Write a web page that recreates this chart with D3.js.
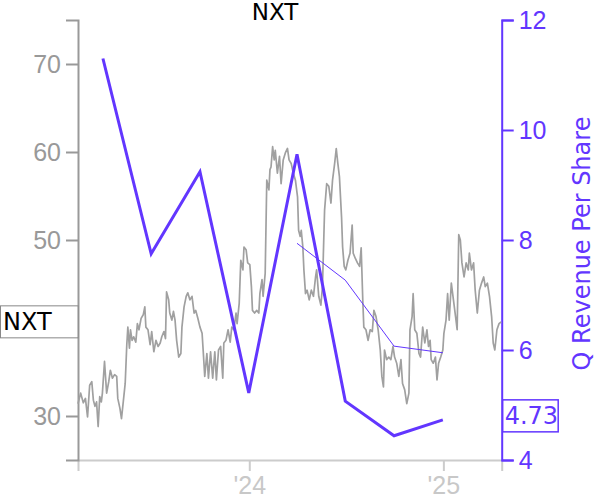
<!DOCTYPE html>
<html>
<head>
<meta charset="utf-8">
<script src="https://cdn.jsdelivr.net/npm/d3@7"></script>
<style>
	body { margin: 0; background: #fff; }
	svg { font-family: "DejaVu Sans", sans-serif; }
</style>
</head>
<body>
<div id="chart"></div>
<script>
// ---- data ----
const ticker = "NXT";
const rightLabel = "Q Revenue Per Share";

// daily-ish close prices, left axis
const priceDates = [
	"2023-02-12","2023-02-17","2023-02-22","2023-02-26","2023-03-02","2023-03-06","2023-03-10","2023-03-13","2023-03-16","2023-03-19",
	"2023-03-22","2023-03-25","2023-03-28","2023-03-30","2023-04-03","2023-04-07","2023-04-11","2023-04-14","2023-04-18","2023-04-22",
	"2023-04-26","2023-04-28","2023-05-02","2023-05-05","2023-05-08","2023-05-12","2023-05-15","2023-05-17","2023-05-20","2023-05-22",
	"2023-05-25","2023-05-28","2023-06-01","2023-06-04","2023-06-07","2023-06-11","2023-06-15","2023-06-18","2023-06-20","2023-06-24",
	"2023-06-28","2023-07-01","2023-07-05","2023-07-09","2023-07-13","2023-07-17","2023-07-20","2023-07-24","2023-07-27","2023-07-29",
	"2023-08-02","2023-08-04","2023-08-08","2023-08-11","2023-08-14","2023-08-17","2023-08-21","2023-08-25","2023-08-27","2023-08-31",
	"2023-09-04","2023-09-07","2023-09-11","2023-09-15","2023-09-19","2023-09-22","2023-09-26","2023-09-30","2023-10-04","2023-10-06",
	"2023-10-09","2023-10-13","2023-10-16","2023-10-20","2023-10-24","2023-10-28","2023-10-31","2023-11-04","2023-11-08","2023-11-12",
	"2023-11-14","2023-11-18","2023-11-22","2023-11-26","2023-11-29","2023-12-03","2023-12-07","2023-12-09","2023-12-13","2023-12-16",
	"2023-12-20","2023-12-22","2023-12-26","2023-12-29","2024-01-02","2024-01-05","2024-01-07","2024-01-11","2024-01-15","2024-01-19",
	"2024-01-21","2024-01-25","2024-01-27","2024-01-31","2024-02-03","2024-02-07","2024-02-09","2024-02-11","2024-02-14","2024-02-17",
	"2024-02-19","2024-02-23","2024-02-27","2024-03-01","2024-03-05","2024-03-09","2024-03-13","2024-03-16","2024-03-20","2024-03-24",
	"2024-03-28","2024-04-01","2024-04-03","2024-04-06","2024-04-08","2024-04-11","2024-04-13","2024-04-16","2024-04-19","2024-04-23",
	"2024-04-27","2024-05-01","2024-05-05","2024-05-07","2024-05-11","2024-05-15","2024-05-18","2024-05-22","2024-05-26","2024-05-30",
	"2024-06-03","2024-06-06","2024-06-10","2024-06-13","2024-06-16","2024-06-19","2024-06-23","2024-06-25","2024-06-28","2024-07-01",
	"2024-07-05","2024-07-09","2024-07-13","2024-07-15","2024-07-19","2024-07-23","2024-07-27","2024-07-30","2024-08-02","2024-08-04",
	"2024-08-08","2024-08-12","2024-08-16","2024-08-20","2024-08-23","2024-08-27","2024-08-31","2024-09-04","2024-09-07","2024-09-10",
	"2024-09-12","2024-09-16","2024-09-20","2024-09-24","2024-09-28","2024-10-01","2024-10-05","2024-10-09","2024-10-13","2024-10-16",
	"2024-10-20","2024-10-24","2024-10-28","2024-10-30","2024-11-03","2024-11-05","2024-11-08","2024-11-12","2024-11-16","2024-11-19",
	"2024-11-23","2024-11-27","2024-12-01","2024-12-04","2024-12-07","2024-12-09","2024-12-13","2024-12-17","2024-12-20","2024-12-23",
	"2024-12-27","2024-12-31","2025-01-02","2025-01-06","2025-01-09","2025-01-12","2025-01-16","2025-01-20","2025-01-24","2025-01-27",
	"2025-01-30","2025-02-02","2025-02-05","2025-02-09","2025-02-13","2025-02-17","2025-02-19","2025-02-23","2025-02-27","2025-03-02",
	"2025-03-06","2025-03-10","2025-03-14","2025-03-18","2025-03-21","2025-03-25","2025-03-29","2025-04-02","2025-04-05","2025-04-08",
	"2025-04-12","2025-04-16","2025-04-20"
];
const priceValues = [
	31.4,32.6,31.5,32.0,29.9,33.5,33.9,31.8,31.1,31.6,
	28.8,32.2,31.6,32.6,36.2,32.6,33.9,35.2,34.3,34.7,
	34.5,32.0,30.9,29.7,31.4,33.7,38.1,40.1,37.7,39.8,
	38.6,39.0,38.4,40.5,39.8,41.1,41.5,42.4,40.1,39.8,
	38.1,39.6,37.3,38.6,37.9,38.3,39.0,39.6,38.8,44.1,
	43.2,41.7,40.9,41.9,40.9,38.6,36.7,37.1,40.1,42.4,
	43.6,44.0,43.2,43.6,41.7,42.0,41.1,40.1,39.4,37.5,
	34.5,37.1,34.3,37.3,34.3,37.3,34.1,37.5,37.9,34.3,
	38.3,38.6,39.8,38.4,40.1,39.8,41.7,40.5,42.8,47.7,
	46.6,49.2,48.9,47.4,47.2,44.7,42.0,41.7,42.0,41.7,
	43.9,45.5,43.6,46.2,56.8,55.7,58.0,58.3,60.6,59.1,
	60.2,57.6,59.5,56.4,59.1,59.9,60.4,59.1,58.7,57.6,
	56.8,54.9,51.1,50.4,51.1,49.2,46.6,43.9,44.3,43.2,
	44.3,43.6,45.8,46.6,43.6,42.6,44.7,53.4,56.4,56.1,
	54.2,56.8,58.7,60.4,58.7,57.2,52.6,49.2,47.0,46.6,
	47.7,48.5,51.7,48.5,47.9,47.4,47.0,49.1,43.2,40.1,
	39.8,38.6,39.8,39.6,42.0,41.3,39.8,37.5,34.5,33.3,
	37.5,36.4,36.7,36.4,37.9,36.7,36.0,34.5,36.4,33.7,
	33.0,31.4,32.6,39.8,41.3,43.9,39.8,39.4,37.1,36.7,
	40.1,38.3,39.8,37.9,38.6,36.4,36.0,36.7,34.1,36.0,
	36.7,37.5,39.4,40.9,43.9,40.9,45.1,43.2,41.3,39.8,
	50.6,50.0,47.4,45.8,47.4,46.6,48.5,46.6,47.4,44.3,
	41.7,44.3,45.1,45.8,44.7,45.1,43.6,41.3,38.3,37.5,
	39.8,40.5,40.7
];

// quarterly revenue per share, right axis
const quarterDates = ["2023-03-31","2023-06-30","2023-09-30","2023-12-31","2024-03-31","2024-06-30","2024-09-30","2024-12-31"];
const revenuePerShare = [11.30, 7.75, 9.24, 5.22, 9.56, 5.07, 4.44, 4.73];

// thin line (4 quarter average, as drawn)
const avgDates = ["2024-03-31","2024-06-30","2024-09-30","2024-12-31"];
const avgRevenue = [7.94, 7.27, 6.07, 5.95];

// axes
const xDomain = ["2023-02-12", "2025-04-21"];
const xTickDates = ["2024-01-01", "2025-01-01"];
const xTickLabels = ["'24", "'25"];
const leftDomain = [25, 75];
const leftTicks = [30, 50, 60, 70];   // 40 sits under the ticker tag
const rightDomain = [4, 12];
const rightTicks = [4, 6, 8, 10, 12];

class DualAxisChart {
	width; height; margin;
	svg; scaleX; scaleL; scaleR;

	// margin: [top, bottom, left, right]
	constructor(container, width, height, margin) {
		this.width = width;
		this.height = height;
		this.margin = margin;
		this.purple = "#6236ff";
		this.grey = "#999";

		this.svg = d3.select(container).append("svg")
			.attr("width", width).attr("height", height);
	}

	#scales() {
		const parse = d3.timeParse("%Y-%m-%d");
		this.parse = parse;
		let x0 = this.margin[2], x1 = this.width - this.margin[3];
		let y0 = this.height - this.margin[1], y1 = this.margin[0];
		this.scaleX = d3.scaleTime(xDomain.map(parse), [x0, x1]);
		this.scaleL = d3.scaleLinear(leftDomain, [y0, y1]);
		this.scaleR = d3.scaleLinear(rightDomain, [y0, y1]);
	}

	#axes() {
		let x0 = this.margin[2], x1 = this.width - this.margin[3];
		let y0 = this.height - this.margin[1];

		// bottom axis, light grey
		let gx = this.svg.append("g")
			.attr("transform", `translate(0, ${y0})`)
			.call(d3.axisBottom(this.scaleX)
				.tickValues(xTickDates.map(this.parse))
				.tickFormat((d, i) => xTickLabels[i])
				.tickSize(11).tickPadding(5));
		gx.selectAll("path, line").attr("stroke", "#ccc").attr("stroke-width", 2);
		gx.selectAll("text").attr("fill", "#c8c8c8").style("font-size", "25px");

		// left axis, price
		let gl = this.svg.append("g")
			.attr("transform", `translate(${x0}, 0)`)
			.call(d3.axisLeft(this.scaleL).tickValues(leftTicks).tickSize(12).tickPadding(5));
		gl.selectAll("path, line").attr("stroke", this.grey).attr("stroke-width", 2);
		gl.selectAll("text").attr("fill", this.grey).style("font-size", "25px");

		// right axis, revenue
		let gr = this.svg.append("g")
			.attr("transform", `translate(${x1}, 0)`)
			.call(d3.axisRight(this.scaleR).tickValues(rightTicks).tickSize(12).tickPadding(5));
		gr.selectAll("path, line").attr("stroke", this.purple).attr("stroke-width", 2);
		gr.selectAll("text").attr("fill", this.purple).style("font-size", "25px");

		this.svg.append("text")
			.attr("transform", `translate(590, ${(this.margin[0] + y0) / 2 + 3.5})rotate(-90)`)
			.attr("text-anchor", "middle")
			.attr("fill", this.purple).style("font-size", "24px")
			.text(rightLabel);

		this.svg.append("text")
			.attr("x", 275).attr("y", 20)
			.attr("text-anchor", "middle")
			.attr("fill", "#000").style("font-size", "23px")
			.text(ticker);
	}

	#lines() {
		let price = priceDates.map((d, i) => [this.parse(d), priceValues[i]]);
		let rev = quarterDates.map((d, i) => [this.parse(d), revenuePerShare[i]]);
		let avg = avgDates.map((d, i) => [this.parse(d), avgRevenue[i]]);

		let lineL = d3.line().x(d => this.scaleX(d[0])).y(d => this.scaleL(d[1]));
		let lineR = d3.line().x(d => this.scaleX(d[0])).y(d => this.scaleR(d[1]));

		this.svg.append("path").datum(price)
			.attr("d", lineL)
			.attr("fill", "none").attr("stroke", "#a0a0a0")
			.attr("stroke-width", 1.7).attr("stroke-linejoin", "round");

		this.svg.append("path").datum(rev)
			.attr("d", lineR)
			.attr("fill", "none").attr("stroke", this.purple)
			.attr("stroke-width", 3).attr("stroke-linejoin", "miter");

		this.svg.append("path").datum(avg)
			.attr("d", lineR)
			.attr("fill", "none").attr("stroke", this.purple)
			.attr("stroke-width", 1);
	}

	#tags() {
		// last price tag on the left
		let yp = this.scaleL(priceValues[priceValues.length - 1]);
		this.svg.append("rect")
			.attr("x", 0.5).attr("y", yp - 16).attr("width", 77.5).attr("height", 32)
			.attr("fill", "#fff").attr("stroke", "#888").attr("stroke-width", 1);
		this.svg.append("text")
			.attr("x", 3).attr("y", yp).attr("dy", "0.36em")
			.attr("fill", "#000").style("font-size", "24px")
			.text(ticker);

		// last revenue tag on the right
		let lastRev = revenuePerShare[revenuePerShare.length - 1];
		let yr = this.scaleR(lastRev) - 4;
		let xr = this.width - this.margin[3] + 1;
		this.svg.append("rect")
			.attr("x", xr).attr("y", yr - 16).attr("width", 55.5).attr("height", 32)
			.attr("fill", "#fff").attr("stroke", this.purple).attr("stroke-width", 1.5);
		this.svg.append("text")
			.attr("x", xr + 2).attr("y", yr).attr("dy", "0.36em")
			.attr("fill", this.purple).style("font-size", "24px")
			.text(lastRev.toFixed(2));
	}

	render() {
		this.#scales();
		this.#axes();
		this.#lines();
		this.#tags();
		return this;
	}
}

new DualAxisChart("#chart", 600, 500, [20, 40, 78, 98.3]).render();
</script>
</body>
</html>
